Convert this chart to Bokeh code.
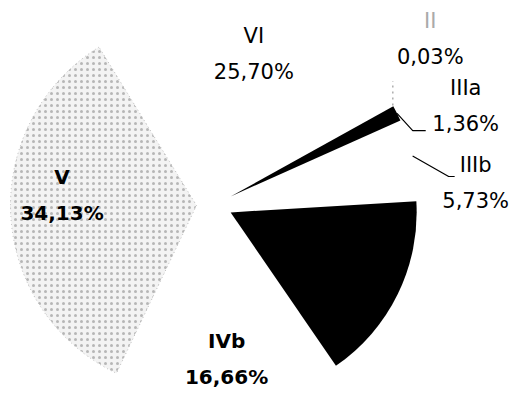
import numpy as np
from bokeh.plotting import figure
from bokeh.models import Range1d
from bokeh.embed import file_html
from bokeh.resources import INLINE
from bokeh.core.properties import value

# ---- data ----
categories = ["II", "IIIa", "IIIb", "IVa", "IVb", "V", "VI"]
values = [0.03, 1.36, 5.73, 16.39, 16.66, 34.13, 25.70]
pct_labels = ["0,03%", "1,36%", "5,73%", "", "16,66%", "34,13%", "25,70%"]
colors = ["#ffffff", "#000000", "#ffffff", "#000000", "#ffffff", "#f3f3f3", "#ffffff"]

# ---- layout ----
W, H = 509, 389
CX, CY = 222, 193          # pie centre (data coords, y up)
R = 186                    # radius
EXPLODE = 18               # explosion distance of every slice
START = 29.1               # first slice starts here, slices run clockwise
FONT = "DejaVu Sans"

# inside labels: (angle nudge, radius fraction from exploded centre, bold)
inside = {"VI": (0.0, 0.74, False), "V": (-7.5, 0.725, True), "IVb": (0.0, 0.735, True)}
# outside labels: polar (angle, radius) from pie centre, leader elbow/end offsets
outside = {
    "II":   (37.5, 272, None, (-40, -42), "#aaaaaa", "dotted"),
    "IIIa": (21.5, 270, (-53, -25), (-40, -25), "#000000", "solid"),
    "IIIb": (4.6, 262, (-27, 7), (-21, 7), "#000000", "solid"),
}

vals = np.array(values)
cum = np.concatenate([[0.0], np.cumsum(vals)[:-1]])
a_start = START - cum * 3.6
a_end = a_start - vals * 3.6
mid = (a_start + a_end) / 2.0
ex = CX + EXPLODE * np.cos(np.radians(mid))
ey = CY + EXPLODE * np.sin(np.radians(mid))

p = figure(width=W, height=H, x_range=Range1d(8, 8 + W), y_range=Range1d(8, 8 + H),
           output_backend="svg", toolbar_location=None, min_border=0,
           x_axis_type=None, y_axis_type=None)
p.grid.visible = False
p.outline_line_color = None
p.background_fill_color = "white"

for i, c in enumerate(categories):
    if c == "V":
        kw = dict(hatch_pattern=".", hatch_scale=6, hatch_color="#444444", hatch_alpha=0.35,
                  line_color="#bbbbbb", line_dash="1 3")
    else:
        kw = dict(line_color=None)
    p.wedge(x=[ex[i]], y=[ey[i]], radius=R,
            start_angle=[np.radians(a_end[i])], end_angle=[np.radians(a_start[i])],
            fill_color=colors[i], **kw)

LINE = 18
for i, c in enumerate(categories):
    if c in inside:
        nudge, frac, bold = inside[c]
        ang = np.radians(mid[i] + nudge)
        lx = ex[i] + frac * R * np.cos(ang)
        ly = ey[i] + frac * R * np.sin(ang)
        style = "bold" if bold else "normal"
        size = "20px" if bold else "21px"
        p.text(x=[lx, lx], y=[ly + LINE, ly - LINE], text=[c, pct_labels[i]],
               text_align="center", text_baseline="middle", text_color="black",
               text_font=value(FONT), text_font_size=size, text_font_style=style)
    elif c in outside:
        ang_d, rad, elbow, end, col, dash = outside[c]
        ang = np.radians(ang_d)
        lx = CX + rad * np.cos(ang)
        ly = CY + rad * np.sin(ang)
        sx = ex[i] + R * np.cos(np.radians(mid[i]))
        sy = ey[i] + R * np.sin(np.radians(mid[i]))
        xs, ys = [sx], [sy]
        if elbow is not None:
            xs.append(lx + elbow[0]); ys.append(ly + elbow[1])
            xs.append(lx + end[0]); ys.append(ly + end[1])
        else:
            xs.append(sx); ys.append(ly + end[1])
        p.line(x=xs, y=ys, line_color=col if c != "II" else "#999999", line_width=1.2,
               line_dash=dash)
        p.text(x=[lx], y=[ly + LINE], text=[c], text_align="center", text_baseline="middle",
               text_color=col, text_font=value(FONT), text_font_size="21px")
        p.text(x=[lx], y=[ly - LINE], text=[pct_labels[i]], text_align="center",
               text_baseline="middle", text_color="black", text_font=value(FONT),
               text_font_size="21px")

open("out.html", "w").write(file_html(p, INLINE))
